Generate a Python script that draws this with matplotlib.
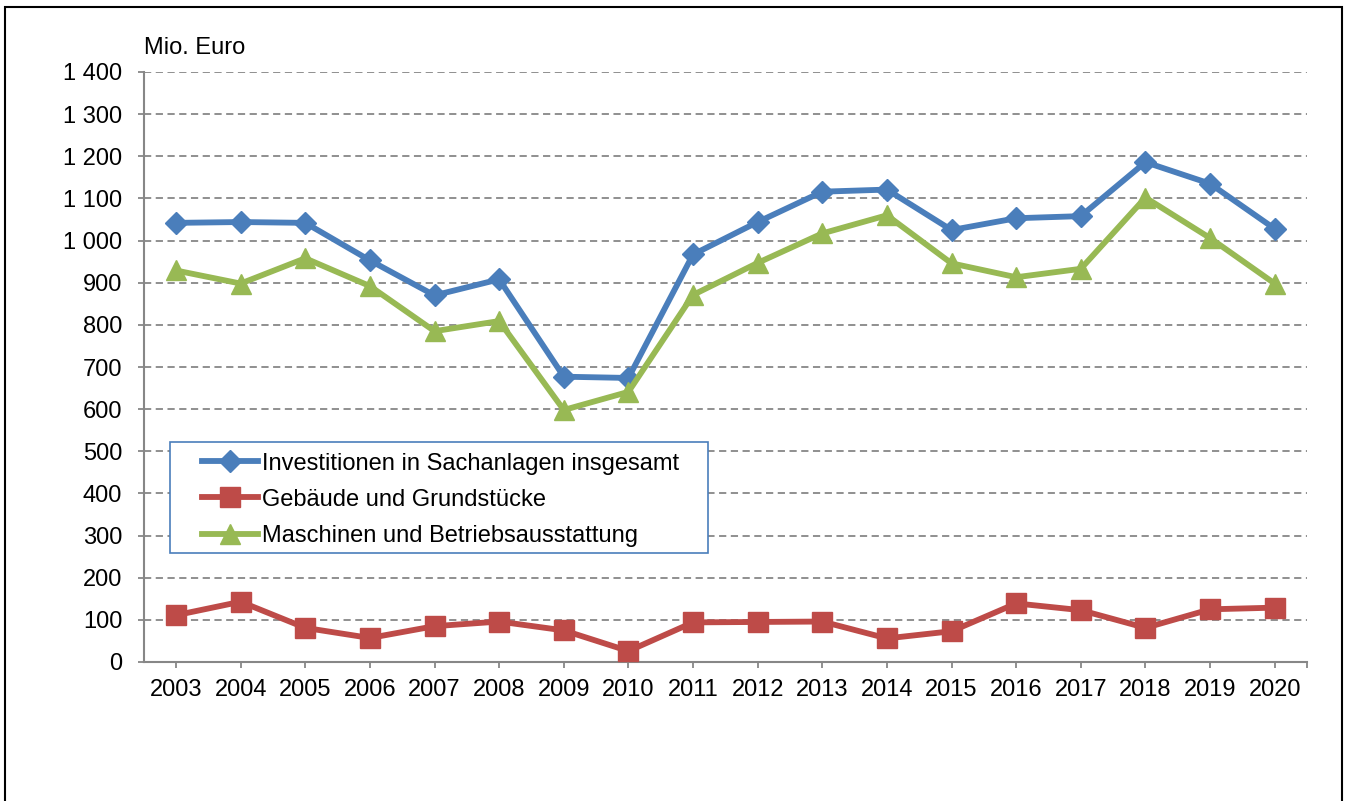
import matplotlib
matplotlib.use('Agg')
import matplotlib.pyplot as plt
from matplotlib.patches import Rectangle
from matplotlib.ticker import FuncFormatter
import numpy as np

plt.rcParams['font.family'] = ['Liberation Sans', 'DejaVu Sans']

# data (Mio. Euro)
years = ['2003', '2004', '2005', '2006', '2007', '2008', '2009', '2010', '2011',
         '2012', '2013', '2014', '2015', '2016', '2017', '2018', '2019', '2020']
insgesamt = [1042, 1044, 1042, 953, 870, 908, 677, 674, 967,
             1044, 1116, 1121, 1025, 1053, 1058, 1186, 1135, 1028]
gebaeude = [111, 143, 81, 57, 85, 96, 75, 26, 94,
            95, 96, 56, 73, 139, 123, 81, 125, 129]
maschinen = [929, 898, 958, 892, 785, 809, 598, 641, 871,
             947, 1017, 1060, 946, 913, 933, 1102, 1006, 898]
labels = ['Investitionen in Sachanlagen insgesamt',
          'Gebäude und Grundstücke',
          'Maschinen und Betriebsausstattung']

fs = 17
grey = '#878787'

fig = plt.figure(figsize=(13.49, 8.01), dpi=100)
ax = fig.add_axes([143.7 / 1349, (801 - 662) / 801, (1307 - 143.7) / 1349, 590 / 801])

x = np.arange(len(years))
ax.plot(x, insgesamt, color='#4A7EBB', lw=4.2, marker='D', ms=11, label=labels[0], zorder=3)
ax.plot(x, gebaeude, color='#BE4B48', lw=4.2, marker='s', ms=14, label=labels[1], zorder=3)
ax.plot(x, maschinen, color='#98B954', lw=4.2, marker='^', ms=15, label=labels[2], zorder=3)

ax.set_xlim(-0.5, 17.5)
ax.set_ylim(0, 1400)
ax.set_yticks(np.arange(0, 1401, 100))
ax.yaxis.set_major_formatter(FuncFormatter(lambda v, p: f'{int(v):,}'.replace(',', ' ')))
ax.set_xticks(x)
ax.set_xticklabels(years)
ax.set_xticks([17.5], minor=True)

ax.grid(axis='y', color=grey, linestyle=(0, (4, 2.5)), linewidth=1.3)
ax.set_axisbelow(True)
for s in ['top', 'right']:
    ax.spines[s].set_visible(False)
for s in ['left', 'bottom']:
    ax.spines[s].set_color(grey)
    ax.spines[s].set_linewidth(1.5)
ax.tick_params(axis='y', length=4.5, width=1.3, color=grey, labelsize=fs, pad=11)
ax.tick_params(axis='x', which='both', length=4, width=1.3, color=grey, labelsize=fs, pad=8)

ax.text(0, 1.04, 'Mio. Euro', transform=ax.transAxes, fontsize=fs, ha='left', va='center')

# legend box
ax.add_patch(Rectangle((0.0226, 0.1847), 0.4625, 0.1882, transform=ax.transAxes,
                       fill=True, facecolor='white', edgecolor='#4A7EBB', lw=1.2, zorder=4))
leg = ax.legend(loc='upper left', bbox_to_anchor=(0.0501, 0.355), frameon=False,
                fontsize=fs, borderpad=0, borderaxespad=0, handlelength=2.37,
                handletextpad=0.17, labelspacing=0.6)
leg.set_zorder(5)

# outer frame
fig.add_artist(Rectangle((5 / 1349, -0.02), 1337 / 1349, (801 - 7) / 801 + 0.02,
                         transform=fig.transFigure, fill=False, edgecolor='black',
                         lw=1.5, clip_on=False))

fig.savefig('out.png', dpi=100)
